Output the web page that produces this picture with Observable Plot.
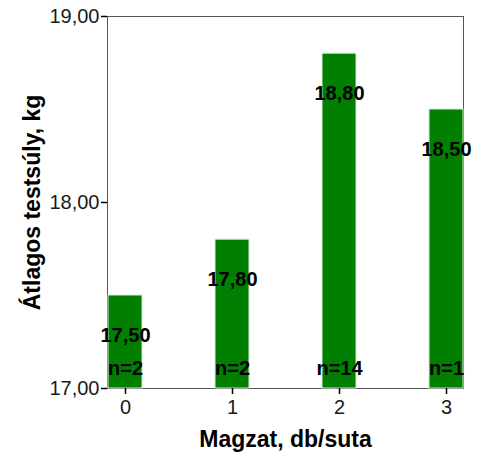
<!DOCTYPE html>
<html>
<head>
<meta charset="utf-8">
<script src="https://cdn.jsdelivr.net/npm/d3@7"></script>
<script src="https://cdn.jsdelivr.net/npm/@observablehq/plot@0.6"></script>
<style>
  html, body { margin: 0; padding: 0; background: #fff; }
</style>
</head>
<body>
<div id="chart"></div>
<script>
const categories = ["0", "1", "2", "3"];
const means = [17.5, 17.8, 18.8, 18.5];
const counts = [2, 2, 14, 1];
const yTicks = [17, 18, 19];
const xTitle = "Magzat, db/suta";
const yTitle = "Átlagos testsúly, kg";

const data = categories.map((c, i) => ({cat: c, mean: means[i], n: counts[i]}));
const fmt = v => v.toFixed(2).replace(".", ",");

const chart = Plot.plot({
  width: 477,
  height: 456,
  marginLeft: 107,
  marginRight: 14,
  marginTop: 16,
  marginBottom: 68,
  style: {fontFamily: "Liberation Sans, Arial, sans-serif", background: "#fff"},
  x: {type: "band", domain: categories, paddingInner: 0.683, paddingOuter: 0},
  y: {domain: [17, 19]},
  marks: [
    Plot.frame({stroke: "#555", strokeWidth: 1}),
    Plot.barY(data, {x: "cat", y1: 17, y2: "mean", fill: "#007f00", stroke: "#d9e6d9", strokeWidth: 1}),
    Plot.text(data, {x: "cat", y: "mean", text: d => fmt(d.mean), dy: 40, fontSize: 20, fontWeight: "bold", fill: "#000"}),
    Plot.text(data, {x: "cat", y: 17, text: d => "n=" + d.n, dy: -20, fontSize: 20, fontWeight: "bold", fill: "#000"}),
    Plot.axisY({ticks: yTicks, tickFormat: fmt, tickSize: 6, tickPadding: 2, fontSize: 20, stroke: "#000", strokeWidth: 1.5, fill: "#1a1a1a", label: null}),
    Plot.axisY({ticks: [], tickSize: 0, label: yTitle, labelAnchor: "center", labelArrow: "none", labelOffset: 84,
      fontSize: 23, fontWeight: "bold", fill: "#000"}),
    Plot.axisX({tickSize: 6, tickPadding: 5, fontSize: 20, stroke: "#000", strokeWidth: 1.5, fill: "#1a1a1a", label: null}),
    Plot.axisX({ticks: [], tickSize: 0, label: xTitle, labelAnchor: "center", labelArrow: "none", labelOffset: 58,
      fontSize: 23, fontWeight: "bold", fill: "#000"})
  ]
});
document.getElementById("chart").appendChild(chart);
</script>
</body>
</html>
